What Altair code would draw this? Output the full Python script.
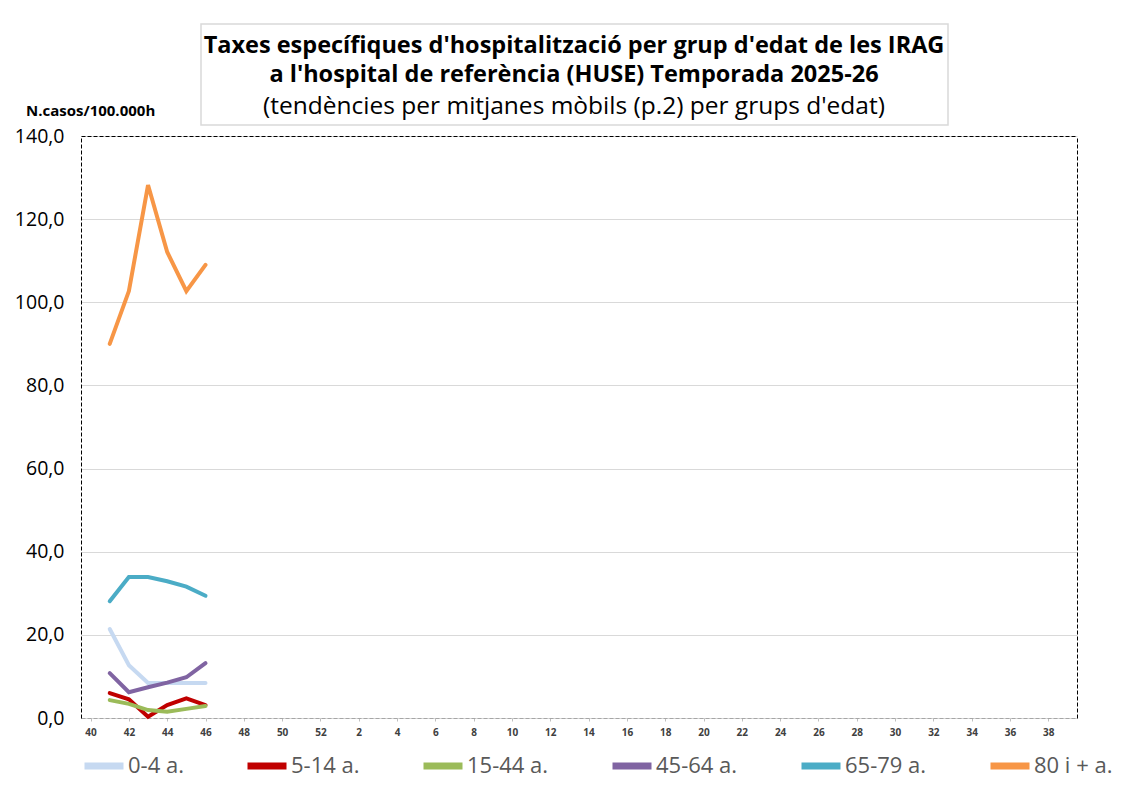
import altair as alt
import pandas as pd

# ---- data ----
weeks = [str(w) for w in range(40, 53)] + [str(w) for w in range(1, 40)]
label_weeks = [w for i, w in enumerate(weeks) if i % 2 == 0]
data_weeks = ["41", "42", "43", "44", "45", "46"]
groups = ["0-4 a.", "5-14 a.", "15-44 a.", "45-64 a.", "65-79 a.", "80 i + a."]
v_0_4 = [21.4, 12.7, 8.4, 8.4, 8.4, 8.4]
v_5_14 = [6.0, 4.5, 0.3, 3.1, 4.7, 3.1]
v_15_44 = [4.3, 3.4, 1.9, 1.5, 2.2, 2.9]
v_45_64 = [10.8, 6.2, 7.4, 8.5, 9.8, 13.2]
v_65_79 = [28.1, 33.9, 33.9, 32.9, 31.6, 29.4]
v_80 = [90.0, 102.7, 128.2, 112.1, 102.7, 109.0]
colors = ["#c6d9f1", "#c00000", "#9bbb59", "#8064a2", "#4bacc6", "#f79646"]
y_ticks = [0, 20, 40, 60, 80, 100, 120, 140]
title_lines = [
    "Taxes específiques d'hospitalització per grup d'edat de les IRAG",
    "a l'hospital de referència (HUSE) Temporada 2025-26",
    "(tendències per mitjanes mòbils (p.2) per grups d'edat)",
]
y_title = "N.casos/100.000h"

series = [v_0_4, v_5_14, v_15_44, v_45_64, v_65_79, v_80]
rows = []
for g, vals in zip(groups, series):
    for w, v in zip(data_weeks, vals):
        rows.append({"week": w, "group": g, "value": v})
df = pd.DataFrame(rows)

FONT = "Open Sans"

base = alt.Chart(df)

lines = base.mark_line(strokeWidth=4, strokeCap="round").encode(
    x=alt.X(
        "week:N",
        sort=weeks,
        scale=alt.Scale(domain=weeks),
        axis=alt.Axis(
            orient="bottom", values=label_weeks, title=None, labelAngle=0,
            labelFont=FONT, labelFontSize=10, labelFontWeight="bold",
            labelColor="#404040", labelPadding=6,
            domainColor="#a6a6a6", domainDash=[4, 2],
            ticks=True, tickColor="#bfbfbf", tickSize=3, grid=False,
        ),
    ),
    y=alt.Y(
        "value:Q",
        scale=alt.Scale(domain=[0, 140], nice=False),
        axis=alt.Axis(
            orient="left", values=y_ticks, title=None,
            labelExpr="replace(format(datum.value, '.1f'), '.', ',')",
            labelFont=FONT, labelFontSize=19.5, labelColor="black",
            labelPadding=17, ticks=False,
            domainColor="black", domainDash=[4, 2],
            grid=True, gridColor="#d9d9d9",
        ),
    ),
    color=alt.Color(
        "group:N",
        sort=groups,
        scale=alt.Scale(domain=groups, range=colors),
        legend=alt.Legend(
            orient="bottom", direction="horizontal", offset=6, padding=0,
            columns=6, title=None, symbolType="stroke", symbolSize=1521,
            symbolStrokeWidth=7, labelFont=FONT, labelFontSize=22,
            labelColor="#595959", columnPadding=49, labelOffset=1,
        ),
    ),
)

frame = base.mark_point(opacity=0).encode(
    x=alt.X(
        "week:N", sort=weeks,
        axis=alt.Axis(orient="top", labels=False, ticks=False, title=None,
                      domainColor="black", domainDash=[4, 2], grid=False),
    ),
    y=alt.Y(
        "value:Q",
        axis=alt.Axis(orient="right", labels=False, ticks=False, title=None,
                      domainColor="black", domainDash=[4, 2], grid=False),
    ),
)

main = (
    alt.layer(lines, frame)
    .resolve_axis(x="independent", y="independent")
    .properties(width=996, height=582)
)

one = pd.DataFrame({"k": [0]})
box = alt.Chart(one).mark_rect(fill="white", stroke="#d9d9d9", strokeWidth=1.5).encode(
    x=alt.value(120), x2=alt.value(867), y=alt.value(0), y2=alt.value(101)
)
t1 = alt.Chart(pd.DataFrame({"t": [title_lines[0]]})).mark_text(
    font=FONT, fontSize=23.5, fontWeight="bold", align="center", baseline="middle", color="black"
).encode(text="t:N", x=alt.value(493), y=alt.value(22))
t2 = alt.Chart(pd.DataFrame({"t": [title_lines[1]]})).mark_text(
    font=FONT, fontSize=23.5, fontWeight="bold", align="center", baseline="middle", color="black"
).encode(text="t:N", x=alt.value(493), y=alt.value(51))
t3 = alt.Chart(pd.DataFrame({"t": [title_lines[2]]})).mark_text(
    font=FONT, fontSize=24.5, fontWeight="normal", align="center", baseline="middle", color="black"
).encode(text="t:N", x=alt.value(493), y=alt.value(83))
yt = alt.Chart(pd.DataFrame({"t": [y_title]})).mark_text(
    font=FONT, fontSize=15, fontWeight="bold", align="left", baseline="middle", color="black"
).encode(text="t:N", x=alt.value(-55), y=alt.value(87))

title_chart = alt.layer(box, t1, t2, t3, yt).properties(width=996, height=101)

chart = (
    alt.vconcat(title_chart, main, spacing=0)
    .properties(padding={"left": 6, "top": 15, "right": 5, "bottom": 2}, background="white")
    .configure_view(stroke=None)
)

chart.save("out.html", embed_options={"renderer": "svg", "actions": False})
